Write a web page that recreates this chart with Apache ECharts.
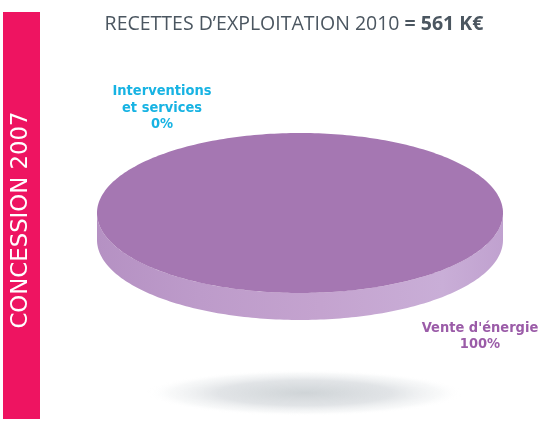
<!DOCTYPE html>
<html>
<head>
<meta charset="utf-8">
<script src="https://cdn.jsdelivr.net/npm/echarts@6/dist/echarts.min.js"></script>
<style>
  html, body { margin: 0; padding: 0; background: #fff; }
  #chart { width: 542px; height: 421px; }
</style>
</head>
<body>
<div id="chart"></div>
<script>
// données
const categories = ["Interventions\net services", "Vente d'énergie"];
const values = [0, 100];
const labelColors = ["#17b3e3", "#9b5ca8"];
const titleParts = ["RECETTES D’EXPLOITATION 2010 ", "= 561 K€"];
const sideTitle = "CONCESSION 2007";

const total = values.reduce((a, b) => a + b, 0);
const startAngle = -Math.PI * 0.75;

// géométrie du camembert (ellipse)
const cx = 300, cy = 213, rx = 203, ry = 80, depth = 27;

function ellipsePts(a0, a1, dy) {
  const pts = [];
  const n = Math.max(2, Math.ceil(Math.abs(a1 - a0) / 0.02));
  for (let i = 0; i <= n; i++) {
    const t = a0 + (a1 - a0) * i / n;
    pts.push([cx + rx * Math.cos(t), cy + ry * Math.sin(t) + dy]);
  }
  return pts;
}

const labelFont = "'DejaVu Sans Condensed', 'Liberation Sans Narrow', sans-serif";

const chart = echarts.init(document.getElementById("chart"));

const option = {
  animation: false,
  title: {
    text: "{a|" + titleParts[0] + "}{b|" + titleParts[1] + "}",
    left: 289,
    top: 9,
    textAlign: "center",
    textStyle: {
      rich: {
        a: { fontFamily: "Open Sans", fontSize: 19.5, fontWeight: "normal", color: "#4b5660" },
        b: { fontFamily: "Open Sans", fontSize: 19.5, fontWeight: "bold", color: "#4b5660" }
      }
    }
  },
  graphic: [
    {
      type: "rect",
      shape: { x: 3, y: 12, width: 37, height: 407 },
      style: { fill: "#ee1461" },
      silent: true
    },
    {
      type: "text",
      x: 21,
      y: 220,
      rotation: Math.PI / 2,
      style: {
        text: sideTitle,
        fill: "#ffffff",
        fontFamily: "DejaVu Sans",
        fontSize: 22.8,
        align: "center",
        verticalAlign: "middle"
      },
      silent: true
    },
    {
      type: "circle",
      x: 305,
      y: 393,
      scaleY: 0.145,
      shape: { cx: 0, cy: 0, r: 158 },
      style: {
        fill: new echarts.graphic.RadialGradient(0.5, 0.5, 0.5, [
          { offset: 0, color: "rgba(207,212,215,1)" },
          { offset: 0.55, color: "rgba(222,225,228,0.9)" },
          { offset: 0.85, color: "rgba(240,242,243,0.5)" },
          { offset: 1, color: "rgba(255,255,255,0)" }
        ])
      },
      silent: true
    },
    {
      type: "text",
      x: 162,
      y: 108,
      style: {
        text: categories[0] + "\n" + values[0] + "%",
        fill: labelColors[0],
        fontFamily: labelFont,
        fontWeight: "bold",
        fontSize: 14.5,
        lineHeight: 16.5,
        align: "center",
        verticalAlign: "middle"
      }
    },
    {
      type: "text",
      x: 480,
      y: 336,
      style: {
        text: categories[1] + "\n" + values[1] + "%",
        fill: labelColors[1],
        fontFamily: labelFont,
        fontWeight: "bold",
        fontSize: 14.5,
        lineHeight: 16.5,
        align: "center",
        verticalAlign: "middle"
      }
    }
  ],
  series: [
    {
      type: "custom",
      coordinateSystem: "none",
      data: values.map((v, i) => ({ name: categories[i], value: v })),
      renderItem: function (params, api) {
        const idx = params.dataIndex;
        const v = api.value(0);
        if (!v) return null;
        let before = 0;
        for (let i = 0; i < idx; i++) before += values[i];
        const a0 = startAngle + before / total * Math.PI * 2;
        const a1 = a0 + v / total * Math.PI * 2;
        const full = v >= total;
        const children = [];
        // face latérale (moitié avant)
        const segs = [];
        for (let k = -1; k <= 1; k++) {
          const s = Math.max(a0, k * 2 * Math.PI);
          const e = Math.min(a1, k * 2 * Math.PI + Math.PI);
          if (e > s) segs.push([s, e]);
        }
        segs.forEach(function (sg) {
          const top = ellipsePts(sg[0], sg[1], 0);
          const bot = ellipsePts(sg[0], sg[1], depth).reverse();
          children.push({
            type: "polygon",
            z2: 1,
            shape: { points: top.concat(bot) },
            style: {
              fill: new echarts.graphic.LinearGradient(0, 0, 1, 0, [
                { offset: 0, color: "#b591c3" },
                { offset: 0.25, color: "#bd9bca" },
                { offset: 0.55, color: "#c4a3cf" },
                { offset: 0.85, color: "#c9aed7" },
                { offset: 1, color: "#c0a1cf" }
              ])
            }
          });
        });
        // face supérieure
        let pts = ellipsePts(a0, a1, 0);
        if (!full) pts = [[cx, cy]].concat(pts);
        children.push({
          type: "polygon",
          z2: 2,
          shape: { points: pts },
          style: { fill: "#a577b2" }
        });
        return { type: "group", children: children };
      }
    }
  ]
};

chart.setOption(option);
</script>
</body>
</html>
